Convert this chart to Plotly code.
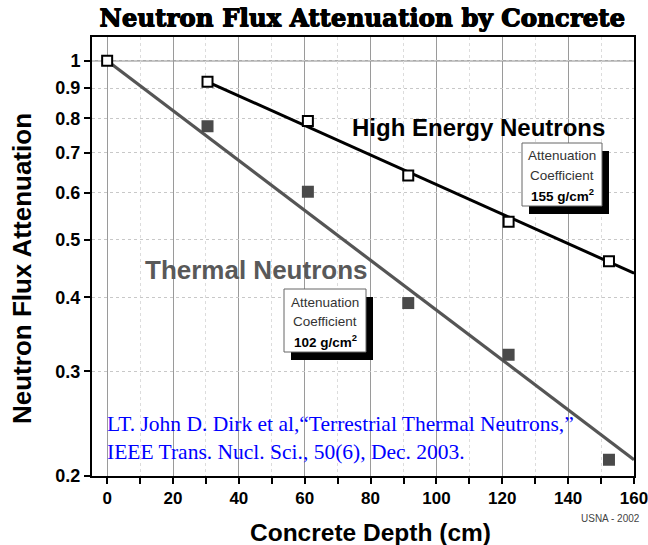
import plotly.graph_objects as go
import math

# Measured attenuation (normalised to 1 at the surface)
depth_cm = [0, 30.48, 60.96, 91.44, 121.92, 152.4]
high_energy = [1.0, 0.922, 0.792, 0.641, 0.536, 0.460]
thermal_depth_cm = [30.48, 60.96, 91.44, 121.92, 152.4]
thermal = [0.776, 0.602, 0.391, 0.320, 0.213]

# Exponential fit lines (end points)
high_fit_x = [30.48, 160]
high_fit_y = [0.922, 0.439]
thermal_fit_x = [0, 160]
thermal_fit_y = [1.0, 0.213]

x_ticks = [0, 20, 40, 60, 80, 100, 120, 140, 160]
y_ticks = [0.2, 0.3, 0.4, 0.5, 0.6, 0.7, 0.8, 0.9, 1]
y_tick_text = ["0.2", "0.3", "0.4", "0.5", "0.6", "0.7", "0.8", "0.9", "1"]

W, H = 648, 545
L, R, T, B = 92, 14, 37, 69
PW, PH = W - L - R, H - T - B


def px(x):
    return (x - L) / PW


def py(y):
    return (H - B - y) / PH


SANS = "Liberation Sans, Arial, sans-serif"
GRAY = "#555555"

fig = go.Figure()

fig.add_trace(go.Scatter(x=high_fit_x, y=high_fit_y, mode="lines",
                         line=dict(color="black", width=3), hoverinfo="skip"))
fig.add_trace(go.Scatter(x=thermal_fit_x, y=thermal_fit_y, mode="lines",
                         line=dict(color=GRAY, width=3.2), hoverinfo="skip"))
fig.add_trace(go.Scatter(x=thermal_depth_cm, y=thermal, mode="markers",
                         marker=dict(symbol="square", size=12, color="#4a4a4a",
                                     line=dict(width=0))))
fig.add_trace(go.Scatter(x=depth_cm, y=high_energy, mode="markers",
                         marker=dict(symbol="square", size=10, color="white",
                                     line=dict(color="black", width=2))))

shapes = []
# solid reference line at unity
shapes.append(dict(type="line", xref="paper", yref="y", x0=0, x1=1, y0=1, y1=1,
                   line=dict(color="#8c8c8c", width=1.2), layer="below"))


def boxed(x0, y0, x1, y1, dx=7, dy=8):
    shapes.append(dict(type="rect", xref="paper", yref="paper",
                       x0=px(x0 + dx), x1=px(x1 + dx), y0=py(y1 + dy), y1=py(y0 + dy),
                       fillcolor="black", line=dict(width=0), layer="above"))
    shapes.append(dict(type="rect", xref="paper", yref="paper",
                       x0=px(x0), x1=px(x1), y0=py(y1), y1=py(y0),
                       fillcolor="white", line=dict(color="#666666", width=1), layer="above"))


boxed(522, 143, 602, 206)
boxed(284, 289, 366, 352)

ann = []


def text(x, y, s, size, color="black", family=SANS, xanchor="center",
         textangle=0, shadow=None):
    font = dict(size=size, color=color, family=family)
    if shadow:
        font["shadow"] = shadow
    ann.append(dict(x=px(x), y=py(y), xref="paper", yref="paper", text=s,
                    showarrow=False, xanchor=xanchor, yanchor="middle",
                    textangle=textangle, font=font))


text(362, 18, "<b>Neutron Flux Attenuation by Concrete</b>", 24.5,
     family="DejaVu Serif, serif",
     shadow="0.8px 0px 0px black, 0px 0.8px 0px black, 0.8px 0.8px 0px black")
text(22, 269, "<b>Neutron Flux Attenuation</b>", 26, textangle=-90)
text(370, 532, "<b>Concrete Depth (cm)</b>", 24.5)
text(610, 518, "USNA - 2002", 10, color="#444444")

text(478, 127, "<b>High Energy Neutrons</b>", 24)
text(256, 270, "<b>Thermal Neutrons</b>", 26, color="#595959")

for cx, top, val in [(562, 143, "155"), (325, 289, "102")]:
    text(cx, top + 13, "Attenuation", 13.5, color="#333333")
    text(cx, top + 32, "Coefficient", 13.5, color="#333333")
    text(cx, top + 52, "<b>%s g/cm<sup>2</sup></b>" % val, 13.5)

SERIF = "Liberation Serif, Times New Roman, serif"
text(105, 424, "LT. John D. Dirk et al,\u201cTerrestrial Thermal Neutrons,\u201d", 21.5,
     color="#0000ff", family=SERIF, xanchor="left")
text(105, 452, "IEEE Trans. Nucl. Sci., 50(6), Dec. 2003.", 21.5,
     color="#0000ff", family=SERIF, xanchor="left")

fig.update_layout(
    width=W, height=H,
    margin=dict(l=L, r=R, t=T, b=B, pad=0, autoexpand=False),
    paper_bgcolor="white", plot_bgcolor="white",
    showlegend=False,
    shapes=shapes, annotations=ann,
    xaxis=dict(range=[-4.6, 160], tickvals=x_ticks, automargin=False,
               ticks="outside", ticklen=6, tickwidth=1.5, tickcolor="black",
               showline=True, linecolor="black", linewidth=2, mirror=True,
               showgrid=True, gridcolor="#9a9a9a", gridwidth=1,
               ticklabeloverflow="allow",
               tickfont=dict(family=SANS, size=17, color="black", weight="bold"),
               minor=dict(dtick=10, tick0=0, ticks="outside", ticklen=6,
                          tickwidth=1.5, tickcolor="black", showgrid=True,
                          gridcolor="#dcdcdc", griddash="dot", gridwidth=1),
               zeroline=False),
    yaxis=dict(type="log", range=[math.log10(0.2), 0.0401], automargin=False,
               tickvals=y_ticks, ticktext=y_tick_text,
               ticks="outside", ticklen=6, tickwidth=1.5, tickcolor="black",
               showline=True, linecolor="black", linewidth=2, mirror=True,
               showgrid=True, gridcolor="#c8c8c8", griddash="dot", gridwidth=1,
               ticklabeloverflow="allow",
               tickfont=dict(family=SANS, size=18, color="black", weight="bold"),
               zeroline=False),
)

fig.write_html("out.html")
